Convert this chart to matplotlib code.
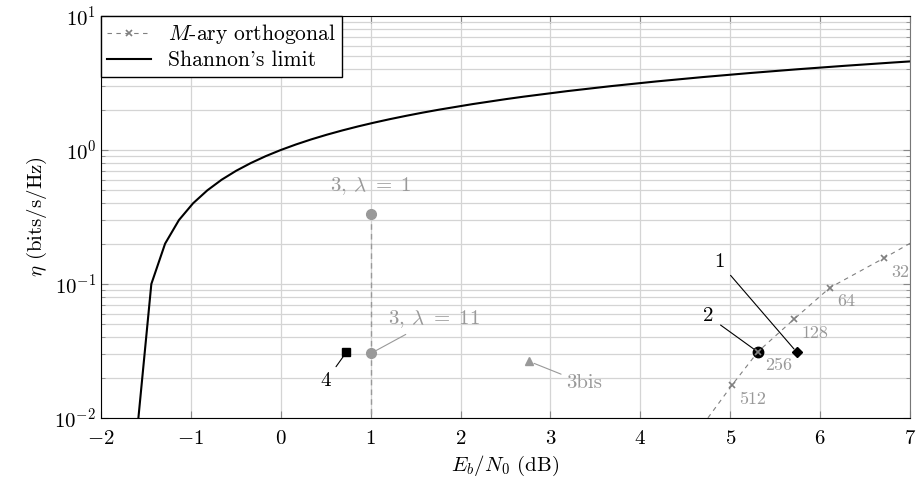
import matplotlib
matplotlib.use('Agg')
import matplotlib.pyplot as plt

# Shannon's limit (Eb/N0 in dB, eta in bits/s/Hz)
shannon_ebn0 = [-1.584, -1.440, -1.287, -1.133, -0.976, -0.817, -0.658, -0.496,
                -0.332, -0.167, 0.0, 0.169, 0.339, 0.511, 0.685, 0.860, 1.037,
                1.215, 1.396, 1.577, 1.761, 2.133, 2.510, 2.701, 3.186, 3.680,
                4.182, 4.693, 5.213, 5.740, 6.275, 6.818, 7.257]
shannon_eta = [0.01, 0.1, 0.2, 0.3, 0.4, 0.5, 0.6, 0.7, 0.8, 0.9, 1.0, 1.1, 1.2,
               1.3, 1.4, 1.5, 1.6, 1.7, 1.8, 1.9, 2.0, 2.2, 2.4, 2.5, 2.75, 3.0,
               3.25, 3.5, 3.75, 4.0, 4.25, 4.5, 4.7]

# M-ary orthogonal (first and last points only extend the dashed line)
mary_M = [16, 32, 64, 128, 256, 512, 1024]
mary_ebn0 = [7.25, 6.71, 6.11, 5.71, 5.31, 5.02, 4.74]
mary_eta = [0.25, 0.156, 0.094, 0.0547, 0.0313, 0.0176, 0.00977]

# scheme 3 for two lambdas
lam_labels = ['3, $\\lambda\\ =\\ 1$', '3, $\\lambda\\ =\\ 11$']
lam_ebn0 = [1.0, 1.0]
lam_eta = [0.333, 0.0303]

# other schemes
p1 = (5.74, 0.031)
p2 = (5.31, 0.031)
p3bis = (2.76, 0.0265)
p4 = (0.73, 0.031)

plt.rcParams['font.family'] = 'serif'
plt.rcParams['font.serif'] = ['cmr10']
plt.rcParams['mathtext.fontset'] = 'cm'
plt.rcParams['axes.formatter.use_mathtext'] = True
plt.rcParams['font.size'] = 15

fig = plt.figure(figsize=(9.17, 4.84), dpi=100)
ax = fig.add_axes([101/917, 66/484, 809/917, 402/484])
ax.set_yscale('log')
ax.set_xlim(-2, 7)
ax.set_ylim(1e-2, 1e1)

ax.grid(True, which='major', axis='x', color='#d4d4d4', lw=0.9)
ax.grid(True, which='both', axis='y', color='#d4d4d4', lw=0.9)
ax.set_axisbelow(True)
ax.set_xticks(range(-2, 8))
ax.tick_params(which='both', direction='in', top=True, right=True, color='#888888')
ax.tick_params(which='major', length=5)
ax.tick_params(which='minor', length=3)
ax.tick_params(axis='x', pad=9)
ax.spines['right'].set_color('#777777')

gray = '#999999'
ax.plot(mary_ebn0, mary_eta, color='#808080', lw=0.8, ls=(0, (4, 4)),
        marker='x', ms=5, mew=1.2, markevery=[1, 2, 3, 4, 5],
        label='$M$-ary orthogonal', zorder=4)
ax.plot(shannon_ebn0, shannon_eta, color='black', lw=1.5, label="Shannon's limit")

for m, x, y in zip(mary_M[1:-1], mary_ebn0[1:-1], mary_eta[1:-1]):
    ax.annotate(str(m), (x, y), xytext=(5, -10), textcoords='offset points',
                ha='left', va='center', color=gray, fontsize=13)

ax.plot([lam_ebn0[0], lam_ebn0[0]], [lam_eta[0], 1e-2], color=gray, lw=1.0,
        ls=(0, (4, 3)), zorder=2)
ax.plot(lam_ebn0, lam_eta, 'o', color=gray, ms=7, ls='none', zorder=3)
ax.annotate(lam_labels[0], (lam_ebn0[0], lam_eta[0]), xytext=(0, 20),
            textcoords='offset points', ha='center', va='center', color=gray)
ax.annotate(lam_labels[1], (lam_ebn0[1], lam_eta[1]), xytext=(46, 25),
            textcoords='offset points', ha='center', va='center', color=gray,
            arrowprops=dict(arrowstyle='-', color=gray, lw=0.8, shrinkA=3, shrinkB=4))

ax.plot(*p3bis, '^', color=gray, ms=6)
ax.annotate('3bis', p3bis, xytext=(40, -16), textcoords='offset points',
            ha='center', va='center', color=gray,
            arrowprops=dict(arrowstyle='-', color=gray, lw=0.8, shrinkA=2, shrinkB=4))

ax.plot(*p4, 's', color='black', ms=5.5)
ax.annotate('4', p4, xytext=(-15, -21), textcoords='offset points',
            ha='center', va='center',
            arrowprops=dict(arrowstyle='-', color='black', lw=0.8, shrinkA=3, shrinkB=4))

ax.plot(*p2, 'o', color='black', ms=7.5, zorder=3)
ax.annotate('2', p2, xytext=(-36, 26), textcoords='offset points',
            ha='center', va='center',
            arrowprops=dict(arrowstyle='-', color='black', lw=0.8, shrinkA=4, shrinkB=4))

ax.plot(*p1, 'D', color='black', ms=5)
ax.annotate('1', p1, xytext=(-56, 65), textcoords='offset points',
            ha='center', va='center',
            arrowprops=dict(arrowstyle='-', color='black', lw=0.8, shrinkA=4, shrinkB=3))

ax.set_xlabel('$E_b/N_0$ (dB)', labelpad=4)
ax.set_ylabel('$\\eta$ (bits/s/Hz)')

leg = ax.legend(loc='upper left', borderaxespad=0, fancybox=False,
                edgecolor='black', framealpha=1, handlelength=2.0,
                borderpad=0.3, labelspacing=0.2, fontsize=15.5)
leg.get_frame().set_linewidth(1.0)

fig.savefig('out.png', dpi=100)
